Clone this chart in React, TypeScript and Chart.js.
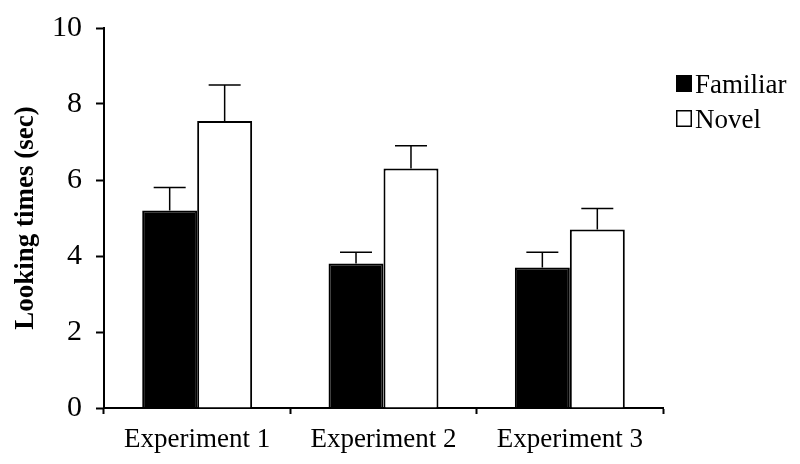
import React, { useEffect, useRef } from "react";
import { Chart, registerables } from "chart.js";

Chart.register(...registerables);

const categories = ["Experiment 1", "Experiment 2", "Experiment 3"];
const familiarValues = [5.2, 3.8, 3.7];
const familiarErrors = [0.6, 0.3, 0.4];
const novelValues = [7.55, 6.3, 4.7];
const novelErrors = [0.95, 0.6, 0.55];
const seriesNames = ["Familiar", "Novel"];
const yTicks = { min: 0, max: 10, step: 2 };
const yTitle = "Looking times (sec)";

const FONT = "'Liberation Serif', 'Times New Roman', serif";

const errorBarPlugin = {
  id: "errorBars",
  afterDatasetsDraw(chart: any) {
    const { ctx } = chart;
    const yScale = chart.scales.y;
    chart.data.datasets.forEach((ds: any, di: number) => {
      const meta = chart.getDatasetMeta(di);
      const errs: number[] = ds.errors || [];
      meta.data.forEach((bar: any, i: number) => {
        const v = ds.data[i];
        const e = errs[i];
        if (e == null) return;
        const yTop = yScale.getPixelForValue(v + e);
        const yBar = yScale.getPixelForValue(v);
        ctx.save();
        ctx.strokeStyle = "#000";
        ctx.lineWidth = 1.5;
        ctx.beginPath();
        ctx.moveTo(bar.x, yBar);
        ctx.lineTo(bar.x, yTop);
        ctx.moveTo(bar.x - 16, yTop);
        ctx.lineTo(bar.x + 16, yTop);
        ctx.stroke();
        ctx.restore();
      });
    });
  },
};

const legendPlugin = {
  id: "customLegend",
  afterDraw(chart: any) {
    const { ctx, chartArea } = chart;
    const x0 = chartArea.right + 13;
    const rows = [67, 102];
    chart.data.datasets.forEach((ds: any, i: number) => {
      const top = rows[i];
      ctx.save();
      ctx.fillStyle = ds.backgroundColor;
      ctx.fillRect(x0, top, 16, 17);
      ctx.strokeStyle = "#000";
      ctx.lineWidth = 1.5;
      ctx.strokeRect(x0 + 0.75, top + 0.75, 14.5, 15.5);
      ctx.fillStyle = "#000";
      ctx.font = `27px ${FONT}`;
      ctx.textBaseline = "alphabetic";
      ctx.textAlign = "left";
      ctx.fillText(ds.label, x0 + 19, top + 18);
      ctx.restore();
    });
  },
};

export default function App() {
  const canvasRef = useRef<HTMLCanvasElement | null>(null);

  useEffect(() => {
    if (!canvasRef.current) return;
    const chart = new Chart(canvasRef.current, {
      type: "bar",
      data: {
        labels: categories,
        datasets: [
          {
            label: seriesNames[0],
            data: familiarValues,
            errors: familiarErrors,
            backgroundColor: "#000000",
            borderColor: "#000000",
            borderWidth: 2,
            categoryPercentage: 0.59,
            barPercentage: 1,
          } as any,
          {
            label: seriesNames[1],
            data: novelValues,
            errors: novelErrors,
            backgroundColor: "#ffffff",
            borderColor: "#000000",
            borderWidth: 2,
            categoryPercentage: 0.59,
            barPercentage: 1,
          } as any,
        ],
      },
      options: {
        animation: false,
        responsive: false,
        maintainAspectRatio: false,
        layout: { padding: { left: 0, top: 20, right: 129, bottom: 0 } },
        plugins: {
          legend: { display: false },
          tooltip: { enabled: false },
        },
        scales: {
          x: {
            afterFit(scale: any) {
              scale.height = 48;
              scale.paddingLeft = 0;
              scale.paddingRight = 0;
            },
            grid: {
              display: true,
              drawOnChartArea: false,
              drawTicks: true,
              tickLength: 6,
              tickColor: "#000",
              tickWidth: 2,
              offset: true,
            },
            border: { display: true, color: "#000", width: 2 },
            ticks: {
              color: "#000",
              font: { family: FONT, size: 27 },
              padding: 10,
              maxRotation: 0,
            },
          },
          y: {
            min: yTicks.min,
            max: yTicks.max,
            afterFit(scale: any) {
              scale.width = 96;
              scale.paddingTop = 0;
              scale.paddingBottom = 0;
            },
            grid: {
              display: true,
              drawOnChartArea: false,
              drawTicks: true,
              tickLength: 8,
              tickColor: "#000",
              tickWidth: 2,
            },
            border: { display: true, color: "#000", width: 2 },
            ticks: {
              stepSize: yTicks.step,
              color: "#000",
              font: { family: FONT, size: 30 },
              padding: 14,
            },
            title: {
              display: true,
              text: yTitle,
              color: "#000",
              font: { family: FONT, size: 27, weight: "bold" },
              padding: { top: 2, bottom: 0 },
            },
          },
        },
      },
      plugins: [errorBarPlugin, legendPlugin],
    });
    return () => chart.destroy();
  }, []);

  return (
    <div style={{ width: 784, height: 448 }}>
      <canvas ref={canvasRef} width={784} height={448} />
    </div>
  );
}
